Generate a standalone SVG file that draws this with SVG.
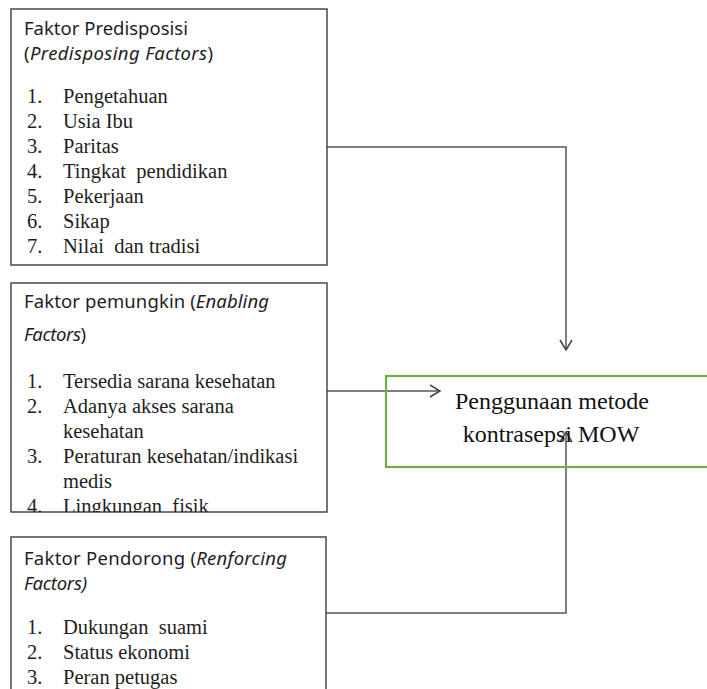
<svg xmlns="http://www.w3.org/2000/svg" width="707" height="689" viewBox="0 0 707 689">
<style>
.box{fill:none;stroke:#3c3c3c;stroke-width:1.4}
.green{fill:none;stroke:#70ad47;stroke-width:2.2}
.hd{font-family:"Noto Sans","Open Sans",sans-serif;font-size:18.5px;fill:#1e1e1e}
.it{font-family:"Liberation Serif","Times New Roman",serif;font-size:20.5px;fill:#1e1e1e}
.big{font-family:"Liberation Serif","Times New Roman",serif;font-size:24px;fill:#111;text-anchor:middle}
.conn{fill:none;stroke:#555;stroke-width:1.5}
.i{font-style:italic}
</style>
<defs>
<marker id="arr" markerUnits="userSpaceOnUse" markerWidth="14" markerHeight="16" viewBox="0 0 14 16" refX="12" refY="8" orient="auto">
<path d="M2,2 L12,8 L2,14" fill="none" stroke="#444" stroke-width="1.5"/>
</marker>
<clipPath id="clip2"><rect x="11" y="283" width="316" height="229"/></clipPath>
</defs>

<g id="connectors">
<polyline class="conn" points="327,147 566,147 566,350" marker-end="url(#arr)"/>
<polyline class="conn" points="327,391 440,391" marker-end="url(#arr)"/>
<polyline class="conn" points="326,613 566,613 566,432" marker-end="url(#arr)"/>
</g>

<g id="node-predisposing">
<rect class="box" x="11" y="9" width="316" height="256"/>
<text class="hd" x="24" y="35" textLength="164" lengthAdjust="spacing">Faktor Predisposisi</text>
<text class="hd" x="24" y="60" textLength="189" lengthAdjust="spacing">(<tspan class="i">Predisposing Factors</tspan>)</text>
<text class="it" x="27" y="103">1.</text><text class="it" x="63" y="103">Pengetahuan</text>
<text class="it" x="27" y="128">2.</text><text class="it" x="63" y="128">Usia Ibu</text>
<text class="it" x="27" y="153">3.</text><text class="it" x="63" y="153">Paritas</text>
<text class="it" x="27" y="178">4.</text><text class="it" x="63" y="178" xml:space="preserve">Tingkat  pendidikan</text>
<text class="it" x="27" y="203">5.</text><text class="it" x="63" y="203">Pekerjaan</text>
<text class="it" x="27" y="228">6.</text><text class="it" x="63" y="228">Sikap</text>
<text class="it" x="27" y="253">7.</text><text class="it" x="63" y="253" xml:space="preserve">Nilai  dan tradisi</text>
</g>

<g id="node-enabling">
<rect class="box" x="11" y="283" width="316" height="229"/>
<text class="hd" x="24" y="308" textLength="245" lengthAdjust="spacing">Faktor pemungkin (<tspan class="i">Enabling</tspan></text>
<text class="hd" x="24" y="341" textLength="62" lengthAdjust="spacing"><tspan class="i">Factors</tspan>)</text>
<g clip-path="url(#clip2)">
<text class="it" x="27" y="388">1.</text><text class="it" x="63" y="388">Tersedia sarana kesehatan</text>
<text class="it" x="27" y="413">2.</text><text class="it" x="63" y="413">Adanya akses sarana</text>
<text class="it" x="63" y="438">kesehatan</text>
<text class="it" x="27" y="463">3.</text><text class="it" x="63" y="463">Peraturan kesehatan/indikasi</text>
<text class="it" x="63" y="488">medis</text>
<text class="it" x="27" y="513">4.</text><text class="it" x="63" y="513" xml:space="preserve">Lingkungan  fisik</text>
</g>
</g>

<g id="node-reinforcing">
<rect class="box" x="11" y="537" width="315" height="170"/>
<text class="hd" x="24" y="565" textLength="263" lengthAdjust="spacing">Faktor Pendorong (<tspan class="i">Renforcing</tspan></text>
<text class="hd i" x="24" y="590" textLength="63" lengthAdjust="spacing">Factors)</text>
<text class="it" x="27" y="634">1.</text><text class="it" x="63" y="634" xml:space="preserve">Dukungan  suami</text>
<text class="it" x="27" y="659">2.</text><text class="it" x="63" y="659">Status ekonomi</text>
<text class="it" x="27" y="684">3.</text><text class="it" x="63" y="684">Peran petugas</text>
</g>

<g id="node-outcome">
<rect class="green" x="386" y="376" width="340" height="91"/>
<text class="big" x="552" y="409">Penggunaan metode</text>
<text class="big" x="551" y="442">kontrasepsi MOW</text>
</g>
</svg>
